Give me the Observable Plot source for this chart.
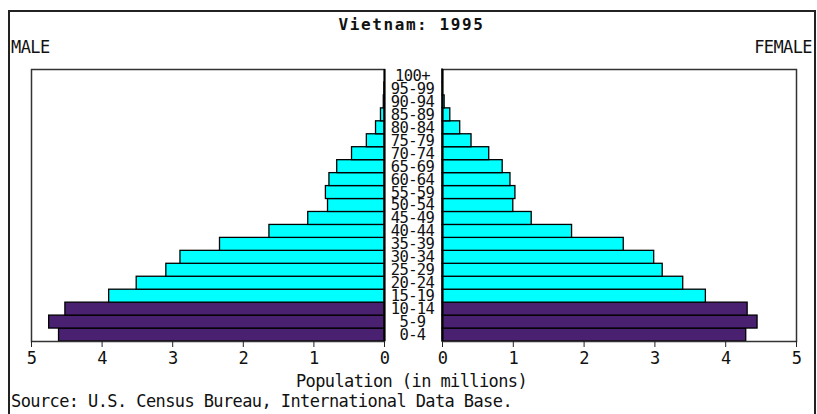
<!DOCTYPE html>
<html>
<head>
<meta charset="utf-8">
<script src="https://cdn.jsdelivr.net/npm/d3@7"></script>
<script src="https://cdn.jsdelivr.net/npm/@observablehq/plot@0.6"></script>
<style>
  html, body { margin: 0; padding: 0; background: #fff; }
  #wrap { position: relative; width: 817px; height: 414px; overflow: hidden; background: #fff;
          font-family: "DejaVu Sans Mono", monospace; color: #111; }
  #outer { position: absolute; left: 8px; top: 10px; width: 804px; height: 420px;
           border-left: 2px solid #222; border-top: 2px solid #222; border-right: 2px solid #222; }
  .t { position: absolute; line-height: 1; white-space: pre; font-size: 17px; letter-spacing: -0.6px; }
  #title { left: 0; width: 823px; text-align: center; top: 16.5px; font-size: 16px; font-weight: bold; letter-spacing: 1.6px; }
  #male { left: 11px; top: 38.5px; }
  #female { right: 5px; top: 38.5px; }
  #xlabel { left: 0; width: 823px; text-align: center; top: 372.5px; }
  #source { left: 11px; top: 392.5px; }
  #left, #right { position: absolute; top: 60px; }
  #left { left: 0; }
  #right { left: 400px; }
</style>
</head>
<body>
<div id="wrap">
  <div id="outer"></div>
  <div class="t" id="title">Vietnam: 1995</div>
  <div class="t" id="male">MALE</div>
  <div class="t" id="female">FEMALE</div>
  <div id="left"></div>
  <div id="right"></div>
  <div class="t" id="xlabel">Population (in millions)</div>
  <div class="t" id="source">Source: U.S. Census Bureau, International Data Base.</div>
</div>
<script>
const ages = ["0-4","5-9","10-14","15-19","20-24","25-29","30-34","35-39","40-44","45-49","50-54","55-59","60-64","65-69","70-74","75-79","80-84","85-89","90-94","95-99","100+"];
const male = [4.61, 4.75, 4.52, 3.90, 3.51, 3.09, 2.89, 2.33, 1.63, 1.08, 0.80, 0.83, 0.78, 0.67, 0.46, 0.25, 0.12, 0.05, 0.01, 0.002, 0];
const female = [4.29, 4.45, 4.31, 3.72, 3.40, 3.11, 2.99, 2.56, 1.83, 1.26, 1.00, 1.03, 0.96, 0.85, 0.66, 0.41, 0.25, 0.11, 0.03, 0.005, 0.001];
const groups = ["0-14", "15+"];
const groupColors = ["#4a2170", "#00ffff"];
const xTicks = [0, 1, 2, 3, 4, 5];

const rows = ages.map((age, i) => ({age, male: male[i], female: female[i], group: i < 3 ? groups[0] : groups[1]}));
const agesTopDown = ages.slice().reverse();

const common = {
  height: 310,
  marginTop: 9,
  marginBottom: 29,
  color: {domain: groups, range: groupColors},
  style: {fontFamily: "DejaVu Sans Mono", fontSize: "17px", letterSpacing: "-0.6px",
          overflow: "visible", background: "transparent", color: "#111"}
};

const leftPlot = Plot.plot({
  ...common,
  width: 400,
  marginLeft: 31,
  marginRight: 16,
  x: {domain: [0, 5], reverse: true},
  y: {domain: agesTopDown, padding: 0, round: false, axis: null},
  marks: [
    Plot.barX(rows, {x: "male", y: "age", fill: "group", stroke: "#000", strokeWidth: 1.3}),
    Plot.frame({stroke: "#333", strokeWidth: 1.5}),
    Plot.ruleX([0], {stroke: "#000", strokeWidth: 2}),
    Plot.axisX({ticks: xTicks, tickFormat: "d", tickSize: 6, tickPadding: 4, label: null, stroke: "#222"})
  ]
});

const rightPlot = Plot.plot({
  ...common,
  width: 417,
  marginLeft: 42,
  marginRight: 21,
  x: {domain: [0, 5]},
  y: {domain: agesTopDown, padding: 0, round: false},
  marks: [
    Plot.barX(rows, {x: "female", y: "age", fill: "group", stroke: "#000", strokeWidth: 1.3}),
    Plot.frame({stroke: "#333", strokeWidth: 1.5}),
    Plot.ruleX([0], {stroke: "#000", strokeWidth: 2}),
    Plot.axisX({ticks: xTicks, tickFormat: "d", tickSize: 6, tickPadding: 4, label: null, stroke: "#222"}),
    Plot.axisY({anchor: "left", tickSize: 0, tickPadding: 30, textAnchor: "middle", fontSize: 15.5, label: null})
  ]
});

document.getElementById("left").appendChild(leftPlot);
document.getElementById("right").appendChild(rightPlot);
</script>
</body>
</html>
